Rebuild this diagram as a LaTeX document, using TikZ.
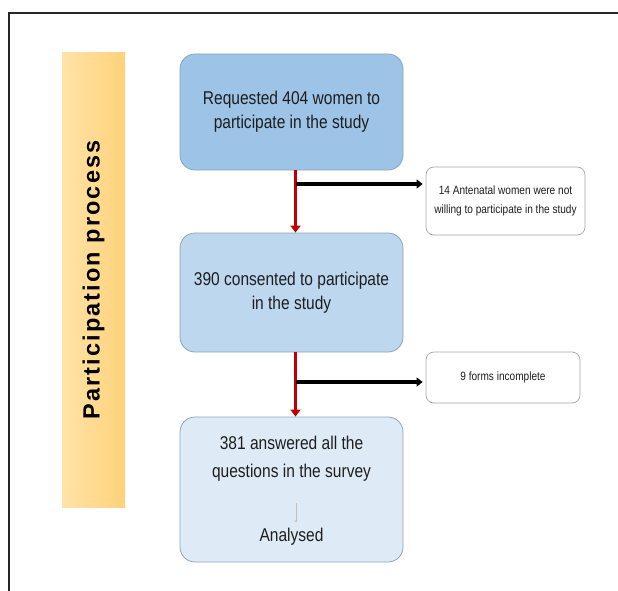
\documentclass[tikz,border=0pt]{standalone}
\usepackage{fontspec}
\setmainfont{Liberation Sans}[FakeStretch=0.84]
\newfontfamily\barfont{Liberation Sans}[LetterSpace=9]
\usepackage{tikz}
\usetikzlibrary{arrows.meta,positioning}

\definecolor{stepA}{HTML}{9DC3E6}
\definecolor{stepB}{HTML}{BDD7EE}
\definecolor{stepC}{HTML}{DEEBF7}
\definecolor{edgegray}{HTML}{8EA3B5}
\definecolor{barL}{HTML}{FFE3A8}
\definecolor{barR}{HTML}{FFD27A}
\definecolor{flowred}{HTML}{C00000}
\definecolor{ink}{HTML}{1E1E1E}

\begin{document}
\begin{tikzpicture}
[x=1pt,y=-1pt,
stepbox/.style={rectangle,rounded corners=15pt,draw=edgegray,line width=0.8pt,
text=ink,align=center,font=\fontsize{18.5}{24}\selectfont,
minimum width=223pt,inner sep=0pt},
sidebox/.style={rectangle,rounded corners=8pt,draw=black!35,fill=white,line width=0.7pt,
text=ink,align=center,font=\fontsize{12}{19}\selectfont,inner sep=0pt},
redflow/.style={draw=flowred,line width=3pt,-{Triangle[length=7pt,width=10pt]}},
blackflow/.style={draw=black,line width=4pt,-{Triangle[length=6pt,width=9pt]},shorten >=3pt}]
\useasboundingbox (0,0) rectangle (618,591);
% frame
\draw [line width=2.5pt,black!85] (618,13) -- (9,13) -- (9,591);
% side bar
\node at (93.5,280) [rectangle,minimum width=63pt,minimum height=454pt,inner sep=0pt,
left color=barL,right color=barR,draw=none] (bar){};
\node at (bar.center) [rotate=90,font=\barfont\bfseries\fontsize{23.5}{25}\selectfont,
text=black] (bartext){Participation process};
% main steps
\node at (291.5,112) [stepbox,fill=stepA,minimum height=116pt] (req){Requested 404 women to\\participate in the study};
\node at (291.5,292.5) [stepbox,fill=stepB,minimum height=119pt] (cons){390 consented to participate\\in the study};
\node at (291.5,489.5) [stepbox,fill=stepC,minimum height=145pt] (ans){};
\node at (291.5,459) [text=ink,align=center,font=\fontsize{18.5}{28}\selectfont,inner sep=0pt] (ansq){381 answered all the\\questions in the survey};
\node at (291.5,537) [text=ink,font=\fontsize{18.5}{24}\selectfont,inner sep=0pt] (ansa){Analysed};
\coordinate (innertop) at (296,503);
\coordinate (innerbot) at (296,523);
\draw [black!25,line width=0.6pt,-{Stealth[length=3pt]}] (innertop) -- (innerbot);
% exclusions
\node at (505.5,201) [sidebox,minimum width=159pt,minimum height=68pt] (refused){14 Antenatal women were not\\willing to participate in the study};
\node at (503,377.5) [sidebox,minimum width=154pt,minimum height=51pt] (incomp){9 forms incomplete};
% flow
\draw [redflow] ([xshift=4pt]req.south) -- ([xshift=4pt]cons.north);
\draw [redflow] ([xshift=4pt]cons.south) -- ([xshift=4pt]ans.north);
\coordinate (split1) at (296,184);
\coordinate (split2) at (296,382);
\draw [blackflow] (split1) -- (split1 -| refused.west);
\draw [blackflow] (split2) -- (split2 -| incomp.west);
\end{tikzpicture}
\end{document}
